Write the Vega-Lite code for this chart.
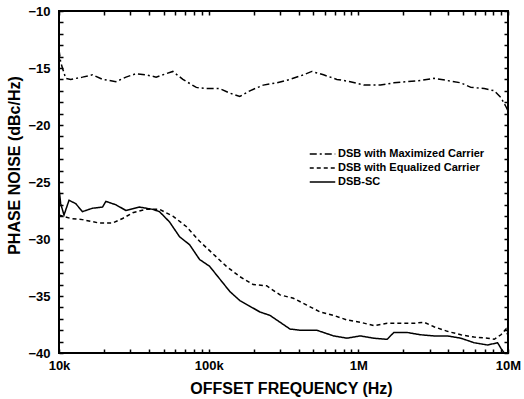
{
  "$schema": "https://vega.github.io/schema/vega-lite/v6.json",
  "autosize": {"type": "none"},
  "width": 449,
  "height": 342,
  "padding": {"left": 59, "top": 11, "right": 16, "bottom": 46},
  "background": "white",
  "config": {
    "view": {"stroke": "black", "strokeWidth": 2},
    "font": "Liberation Sans",
    "axis": {"grid": false, "domain": false, "labelColor": "black", "titleColor": "black", "labelFont": "Liberation Sans", "titleFont": "Liberation Sans", "labelFontWeight": "bold", "titleFontWeight": "bold", "labelFontSize": 13, "titleFontSize": 16}
  },
  "data": {"values": [
    {"f": 10000, "db": -13.4, "s": "DSB with Maximized Carrier"},
    {"f": 10260, "db": -14.5, "s": "DSB with Maximized Carrier"},
    {"f": 11080, "db": -15.9, "s": "DSB with Maximized Carrier"},
    {"f": 11980, "db": -16.0, "s": "DSB with Maximized Carrier"},
    {"f": 14340, "db": -15.8, "s": "DSB with Maximized Carrier"},
    {"f": 16740, "db": -15.6, "s": "DSB with Maximized Carrier"},
    {"f": 19540, "db": -16.0, "s": "DSB with Maximized Carrier"},
    {"f": 24010, "db": -16.2, "s": "DSB with Maximized Carrier"},
    {"f": 28020, "db": -15.8, "s": "DSB with Maximized Carrier"},
    {"f": 32700, "db": -15.5, "s": "DSB with Maximized Carrier"},
    {"f": 38160, "db": -15.6, "s": "DSB with Maximized Carrier"},
    {"f": 44550, "db": -15.8, "s": "DSB with Maximized Carrier"},
    {"f": 52000, "db": -15.5, "s": "DSB with Maximized Carrier"},
    {"f": 57640, "db": -15.3, "s": "DSB with Maximized Carrier"},
    {"f": 67260, "db": -16.0, "s": "DSB with Maximized Carrier"},
    {"f": 82650, "db": -16.7, "s": "DSB with Maximized Carrier"},
    {"f": 96450, "db": -16.8, "s": "DSB with Maximized Carrier"},
    {"f": 118500, "db": -16.8, "s": "DSB with Maximized Carrier"},
    {"f": 138350, "db": -17.2, "s": "DSB with Maximized Carrier"},
    {"f": 161500, "db": -17.5, "s": "DSB with Maximized Carrier"},
    {"f": 188500, "db": -17.0, "s": "DSB with Maximized Carrier"},
    {"f": 231600, "db": -16.5, "s": "DSB with Maximized Carrier"},
    {"f": 284600, "db": -16.3, "s": "DSB with Maximized Carrier"},
    {"f": 349700, "db": -16.0, "s": "DSB with Maximized Carrier"},
    {"f": 429700, "db": -15.6, "s": "DSB with Maximized Carrier"},
    {"f": 488700, "db": -15.3, "s": "DSB with Maximized Carrier"},
    {"f": 585300, "db": -15.6, "s": "DSB with Maximized Carrier"},
    {"f": 719300, "db": -16.0, "s": "DSB with Maximized Carrier"},
    {"f": 883600, "db": -16.2, "s": "DSB with Maximized Carrier"},
    {"f": 1086000, "db": -16.5, "s": "DSB with Maximized Carrier"},
    {"f": 1405000, "db": -16.5, "s": "DSB with Maximized Carrier"},
    {"f": 1726000, "db": -16.3, "s": "DSB with Maximized Carrier"},
    {"f": 2122000, "db": -16.2, "s": "DSB with Maximized Carrier"},
    {"f": 2607000, "db": -16.1, "s": "DSB with Maximized Carrier"},
    {"f": 3203000, "db": -15.9, "s": "DSB with Maximized Carrier"},
    {"f": 3936000, "db": -16.1, "s": "DSB with Maximized Carrier"},
    {"f": 4837000, "db": -16.3, "s": "DSB with Maximized Carrier"},
    {"f": 5646000, "db": -16.7, "s": "DSB with Maximized Carrier"},
    {"f": 6937000, "db": -16.8, "s": "DSB with Maximized Carrier"},
    {"f": 8097000, "db": -17.0, "s": "DSB with Maximized Carrier"},
    {"f": 8974000, "db": -17.6, "s": "DSB with Maximized Carrier"},
    {"f": 9696000, "db": -18.4, "s": "DSB with Maximized Carrier"},
    {"f": 9949000, "db": -18.7, "s": "DSB with Maximized Carrier"},
    {"f": 10000, "db": -27.9, "s": "DSB with Equalized Carrier"},
    {"f": 11980, "db": -28.2, "s": "DSB with Equalized Carrier"},
    {"f": 14340, "db": -28.3, "s": "DSB with Equalized Carrier"},
    {"f": 18560, "db": -28.6, "s": "DSB with Equalized Carrier"},
    {"f": 22800, "db": -28.6, "s": "DSB with Equalized Carrier"},
    {"f": 26610, "db": -28.2, "s": "DSB with Equalized Carrier"},
    {"f": 31060, "db": -27.7, "s": "DSB with Equalized Carrier"},
    {"f": 38160, "db": -27.4, "s": "DSB with Equalized Carrier"},
    {"f": 46900, "db": -27.4, "s": "DSB with Equalized Carrier"},
    {"f": 57640, "db": -28.0, "s": "DSB with Equalized Carrier"},
    {"f": 70810, "db": -28.9, "s": "DSB with Equalized Carrier"},
    {"f": 87000, "db": -30.2, "s": "DSB with Equalized Carrier"},
    {"f": 106900, "db": -31.3, "s": "DSB with Equalized Carrier"},
    {"f": 131400, "db": -32.4, "s": "DSB with Equalized Carrier"},
    {"f": 161500, "db": -33.3, "s": "DSB with Equalized Carrier"},
    {"f": 198400, "db": -34.0, "s": "DSB with Equalized Carrier"},
    {"f": 243800, "db": -34.1, "s": "DSB with Equalized Carrier"},
    {"f": 299600, "db": -34.9, "s": "DSB with Equalized Carrier"},
    {"f": 368100, "db": -35.2, "s": "DSB with Equalized Carrier"},
    {"f": 452400, "db": -35.8, "s": "DSB with Equalized Carrier"},
    {"f": 555900, "db": -36.4, "s": "DSB with Equalized Carrier"},
    {"f": 683200, "db": -36.7, "s": "DSB with Equalized Carrier"},
    {"f": 839200, "db": -37.1, "s": "DSB with Equalized Carrier"},
    {"f": 1031000, "db": -37.3, "s": "DSB with Equalized Carrier"},
    {"f": 1267000, "db": -37.6, "s": "DSB with Equalized Carrier"},
    {"f": 1557000, "db": -37.4, "s": "DSB with Equalized Carrier"},
    {"f": 1914000, "db": -37.4, "s": "DSB with Equalized Carrier"},
    {"f": 2352000, "db": -37.4, "s": "DSB with Equalized Carrier"},
    {"f": 2745000, "db": -37.3, "s": "DSB with Equalized Carrier"},
    {"f": 3203000, "db": -37.7, "s": "DSB with Equalized Carrier"},
    {"f": 3936000, "db": -38.1, "s": "DSB with Equalized Carrier"},
    {"f": 4837000, "db": -38.4, "s": "DSB with Equalized Carrier"},
    {"f": 5943000, "db": -38.6, "s": "DSB with Equalized Carrier"},
    {"f": 7304000, "db": -38.7, "s": "DSB with Equalized Carrier"},
    {"f": 8097000, "db": -38.8, "s": "DSB with Equalized Carrier"},
    {"f": 8974000, "db": -38.4, "s": "DSB with Equalized Carrier"},
    {"f": 9696000, "db": -37.9, "s": "DSB with Equalized Carrier"},
    {"f": 9949000, "db": -38.4, "s": "DSB with Equalized Carrier"},
    {"f": 10000, "db": -25.5, "s": "DSB-SC"},
    {"f": 10260, "db": -26.9, "s": "DSB-SC"},
    {"f": 10800, "db": -27.9, "s": "DSB-SC"},
    {"f": 11670, "db": -26.6, "s": "DSB-SC"},
    {"f": 12940, "db": -26.9, "s": "DSB-SC"},
    {"f": 14340, "db": -27.6, "s": "DSB-SC"},
    {"f": 16740, "db": -27.3, "s": "DSB-SC"},
    {"f": 19540, "db": -27.2, "s": "DSB-SC"},
    {"f": 20570, "db": -26.7, "s": "DSB-SC"},
    {"f": 24010, "db": -27.0, "s": "DSB-SC"},
    {"f": 28020, "db": -27.5, "s": "DSB-SC"},
    {"f": 34430, "db": -27.2, "s": "DSB-SC"},
    {"f": 42300, "db": -27.4, "s": "DSB-SC"},
    {"f": 46900, "db": -27.6, "s": "DSB-SC"},
    {"f": 54740, "db": -28.5, "s": "DSB-SC"},
    {"f": 63880, "db": -29.8, "s": "DSB-SC"},
    {"f": 74560, "db": -30.5, "s": "DSB-SC"},
    {"f": 87000, "db": -31.8, "s": "DSB-SC"},
    {"f": 101550, "db": -32.4, "s": "DSB-SC"},
    {"f": 118500, "db": -33.5, "s": "DSB-SC"},
    {"f": 138350, "db": -34.6, "s": "DSB-SC"},
    {"f": 161500, "db": -35.4, "s": "DSB-SC"},
    {"f": 188500, "db": -35.9, "s": "DSB-SC"},
    {"f": 220000, "db": -36.4, "s": "DSB-SC"},
    {"f": 256700, "db": -36.7, "s": "DSB-SC"},
    {"f": 299600, "db": -37.3, "s": "DSB-SC"},
    {"f": 349700, "db": -37.9, "s": "DSB-SC"},
    {"f": 408100, "db": -38.0, "s": "DSB-SC"},
    {"f": 528000, "db": -38.0, "s": "DSB-SC"},
    {"f": 683200, "db": -38.5, "s": "DSB-SC"},
    {"f": 839200, "db": -38.7, "s": "DSB-SC"},
    {"f": 1031000, "db": -38.5, "s": "DSB-SC"},
    {"f": 1267000, "db": -38.7, "s": "DSB-SC"},
    {"f": 1557000, "db": -38.8, "s": "DSB-SC"},
    {"f": 1726000, "db": -38.2, "s": "DSB-SC"},
    {"f": 2122000, "db": -38.2, "s": "DSB-SC"},
    {"f": 2607000, "db": -38.4, "s": "DSB-SC"},
    {"f": 3203000, "db": -38.5, "s": "DSB-SC"},
    {"f": 3936000, "db": -38.5, "s": "DSB-SC"},
    {"f": 4837000, "db": -38.7, "s": "DSB-SC"},
    {"f": 5943000, "db": -39.1, "s": "DSB-SC"},
    {"f": 7304000, "db": -39.3, "s": "DSB-SC"},
    {"f": 8523000, "db": -39.1, "s": "DSB-SC"},
    {"f": 8974000, "db": -39.6, "s": "DSB-SC"},
    {"f": 9449000, "db": -40.0, "s": "DSB-SC"}
  ]},
  "resolve": {"axis": {"x": "independent", "y": "independent"}},
  "layer": [
    {
      "mark": {"type": "line", "color": "black", "clip": true},
      "encoding": {
        "x": {"field": "f", "type": "quantitative", "scale": {"type": "log", "domain": [10000, 10000000], "nice": false},
          "axis": {"orient": "bottom", "values": [10000, 20000, 30000, 40000, 50000, 60000, 70000, 80000, 90000, 100000, 200000, 300000, 400000, 500000, 600000, 700000, 800000, 900000, 1000000, 2000000, 3000000, 4000000, 5000000, 6000000, 7000000, 8000000, 9000000, 10000000], "labelExpr": "datum.value == 10000 ? '10k' : datum.value == 100000 ? '100k' : datum.value == 1000000 ? '1M' : datum.value == 10000000 ? '10M' : ''", "tickColor": "black", "tickWidth": 1.5, "tickSize": -4, "labelPadding": 10, "title": "OFFSET FREQUENCY (Hz)", "titlePadding": 8, "titleX": 232, "labelFlush": false}},
        "y": {"field": "db", "type": "quantitative", "scale": {"domain": [-40, -10], "nice": false, "zero": false},
          "axis": {"orient": "left", "values": [-40, -39, -38, -37, -36, -35, -34, -33, -32, -31, -30, -29, -28, -27, -26, -25, -24, -23, -22, -21, -20, -19, -18, -17, -16, -15, -14, -13, -12, -11, -10], "labelExpr": "datum.value % 5 == 0 ? datum.label : ''", "tickColor": "black", "tickWidth": 1.5, "tickSize": -4, "labelPadding": 13, "title": "PHASE NOISE (dBc/Hz)", "titlePadding": 5, "titleY": 154}},
        "strokeDash": {"field": "s", "type": "nominal",
          "scale": {"domain": ["DSB with Maximized Carrier", "DSB with Equalized Carrier", "DSB-SC"], "range": [[7, 3, 2, 3], [4, 3], [1, 0]]},
          "legend": {"title": null, "orient": "none", "legendX": 250, "legendY": 137, "labelFont": "Liberation Sans", "labelFontWeight": "bold", "labelFontSize": 11, "labelColor": "black", "symbolType": "stroke", "symbolSize": 650, "symbolStrokeColor": "black", "symbolStrokeWidth": 1.6, "clipHeight": 12, "rowPadding": 2, "labelOffset": 2}},
        "strokeWidth": {"field": "s", "type": "nominal", "scale": {"domain": ["DSB with Maximized Carrier", "DSB with Equalized Carrier", "DSB-SC"], "range": [1.5, 1.5, 2]}, "legend": null}
      }
    },
    {
      "mark": {"type": "point", "opacity": 0},
      "encoding": {
        "x": {"field": "f", "type": "quantitative", "axis": {"orient": "top", "values": [10000, 20000, 30000, 40000, 50000, 60000, 70000, 80000, 90000, 100000, 200000, 300000, 400000, 500000, 600000, 700000, 800000, 900000, 1000000, 2000000, 3000000, 4000000, 5000000, 6000000, 7000000, 8000000, 9000000, 10000000], "labelExpr": "''", "tickColor": "black", "tickWidth": 1.5, "tickSize": -4, "title": null}},
        "y": {"field": "db", "type": "quantitative", "axis": {"orient": "right", "values": [-40, -39, -38, -37, -36, -35, -34, -33, -32, -31, -30, -29, -28, -27, -26, -25, -24, -23, -22, -21, -20, -19, -18, -17, -16, -15, -14, -13, -12, -11, -10], "labelExpr": "''", "tickColor": "black", "tickWidth": 1.5, "tickSize": -4, "title": null}}
      }
    }
  ]
}
